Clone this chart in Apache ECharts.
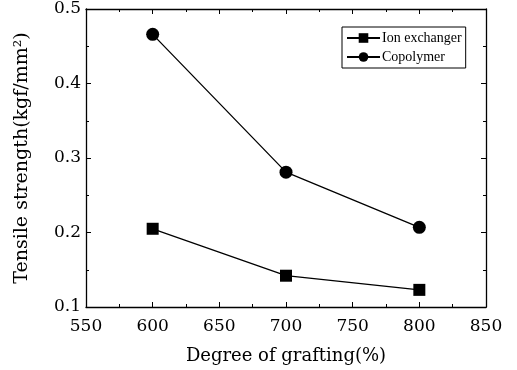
<!DOCTYPE html>
<html>
<head>
<meta charset="utf-8">
<script src="https://cdn.jsdelivr.net/npm/echarts@6/dist/echarts.min.js"></script>
<style>
  html, body { margin: 0; padding: 0; background: #fff; }
  #chart { width: 517px; height: 370px; }
</style>
</head>
<body>
<div id="chart"></div>
<script>
// Degree of grafting (%) and tensile strength (kgf/mm²)
const grafting = [600, 700, 800];
const ionExchanger = [0.205, 0.142, 0.123];
const copolymer = [0.466, 0.281, 0.207];
const seriesNames = ['Ion exchanger', 'Copolymer'];
const xTitle = 'Degree of grafting(%)';
const yTitle = 'Tensile strength(kgf/mm²)';

const ink = '#000';
const serif = 'DejaVu Serif';

function pairs(xs, ys) { return xs.map((x, i) => [x, ys[i]]); }

// shared styling for the frame axes (ticks point inward on all four sides)
function frameAxis(extra) {
  return Object.assign({
    axisLine: { show: true, onZero: false, lineStyle: { color: ink, width: 1.3 } },
    axisTick: { show: true, inside: true, length: 5, lineStyle: { color: ink, width: 1 } },
    minorTick: { show: true, splitNumber: 2, length: 3, lineStyle: { color: ink, width: 1 } },
    splitLine: { show: false },
    minorSplitLine: { show: false }
  }, extra);
}

const chart = echarts.init(document.getElementById('chart'), null, { renderer: 'canvas' });
chart.setOption({
  animation: false,
  backgroundColor: '#fff',
  grid: { left: 86, right: 31, top: 9, bottom: 62 },
  legend: {
    data: seriesNames,
    orient: 'vertical',
    left: 342,
    top: 27,
    width: 123,
    padding: [4, 4, 4, 4],
    borderColor: ink,
    borderWidth: 1,
    itemWidth: 33,
    itemHeight: 12,
    itemGap: 5,
    textStyle: { fontFamily: 'Liberation Serif', fontSize: 14, color: ink, padding: [0, 0, 0, -3] }
  },
  xAxis: [
    frameAxis({
      type: 'value', min: 550, max: 850, interval: 50, position: 'bottom',
      name: xTitle, nameLocation: 'middle', nameGap: 40,
      nameTextStyle: { fontFamily: serif, fontSize: 18, color: ink },
      axisLabel: { fontFamily: serif, fontSize: 17, color: ink, margin: 11 }
    }),
    frameAxis({
      type: 'value', min: 550, max: 850, interval: 50, position: 'top',
      axisLabel: { show: false }
    })
  ],
  yAxis: [
    frameAxis({
      type: 'value', min: 0.1, max: 0.5, interval: 0.1, position: 'left',
      name: yTitle, nameLocation: 'middle', nameGap: 54,
      nameTextStyle: { fontFamily: serif, fontSize: 19, color: ink },
      axisLabel: { fontFamily: serif, fontSize: 17, color: ink, margin: 5,
        formatter: v => v.toFixed(1) }
    }),
    frameAxis({
      type: 'value', min: 0.1, max: 0.5, interval: 0.1, position: 'right',
      axisLabel: { show: false }
    })
  ],
  series: [
    {
      name: seriesNames[0], type: 'line', data: pairs(grafting, ionExchanger),
      symbol: 'rect', symbolSize: 12,
      itemStyle: { color: ink }, lineStyle: { color: ink, width: 1.3 }
    },
    {
      name: seriesNames[1], type: 'line', data: pairs(grafting, copolymer),
      symbol: 'circle', symbolSize: 13,
      itemStyle: { color: ink }, lineStyle: { color: ink, width: 1.3 }
    }
  ]
});
</script>
</body>
</html>
